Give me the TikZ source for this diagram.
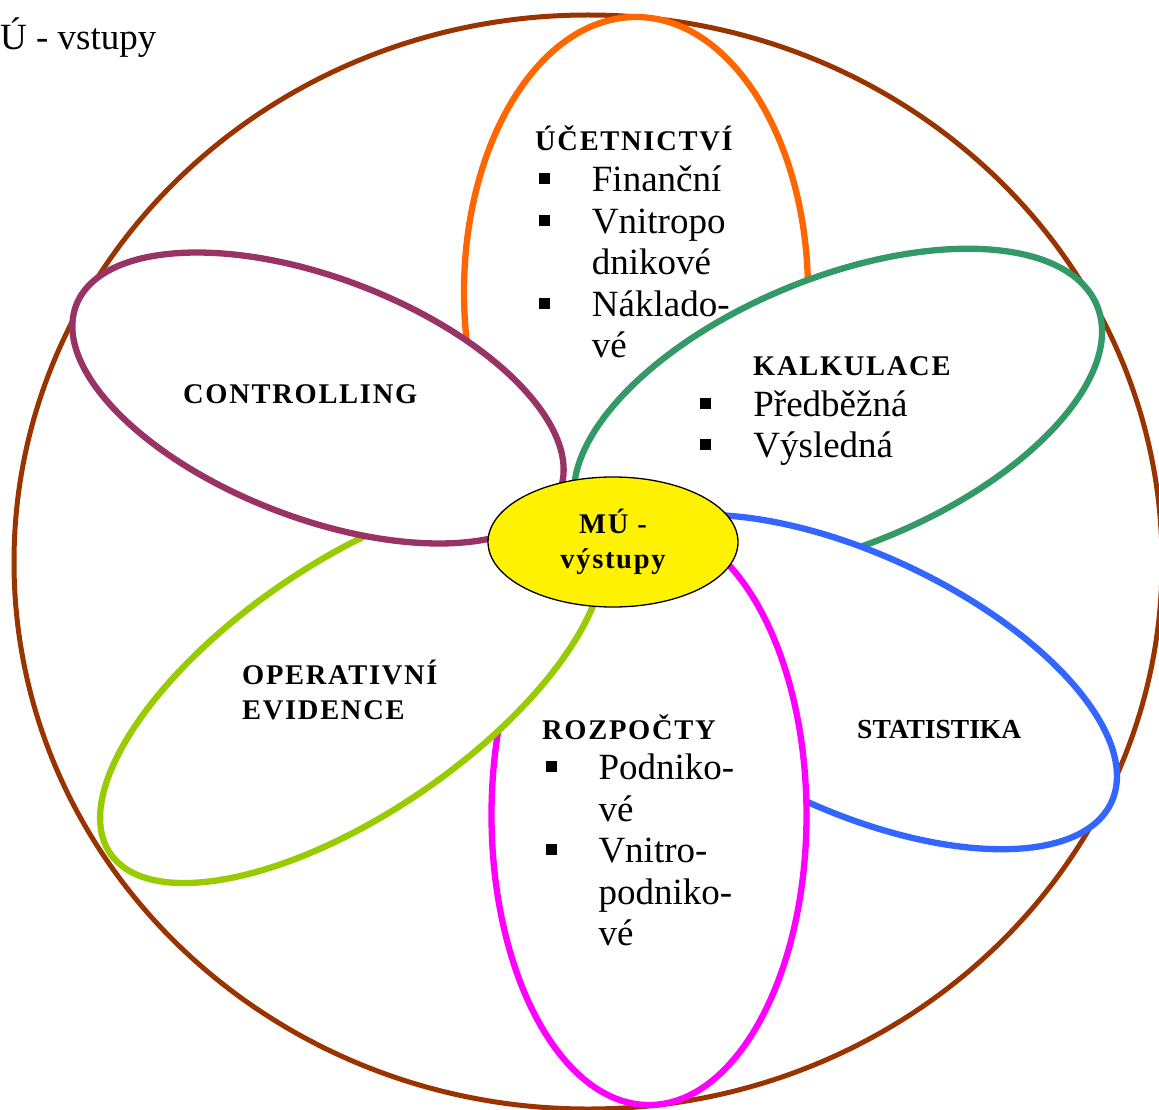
\documentclass[tikz,border=0pt]{standalone}
\usepackage{fontspec}
\setmainfont{Liberation Serif}
\newfontfamily\headfont[LetterSpace=6]{Liberation Serif}
\usetikzlibrary{shapes.geometric}
\definecolor{rimcol}{HTML}{993300}
\definecolor{ucetcol}{HTML}{FF6600}
\definecolor{kalkcol}{HTML}{339966}
\definecolor{statcol}{HTML}{3366FF}
\definecolor{rozpcol}{HTML}{FF00FF}
\definecolor{opercol}{HTML}{99CC00}
\definecolor{ctrlcol}{HTML}{993366}
\newcommand{\sqb}{\rule[7.5pt]{11pt}{11pt}}
\newcommand{\itm}[1]{\makebox[53pt][l]{\sqb}#1}
\newcommand{\cnt}[1]{\hspace*{53pt}#1}
\tikzset{petal/.style={ellipse,draw,line width=6.3pt,fill=white,inner sep=0pt},
         head/.style={anchor=base west,inner sep=0pt,font=\headfont\fontsize{28.5}{35.6}\selectfont\bfseries},
         plainhead/.style={anchor=base west,inner sep=0pt,font=\fontsize{27.5}{35.6}\selectfont\bfseries},
         lst/.style={anchor=base west,inner sep=0pt,font=\fontsize{37}{41.5}\selectfont},
         core/.style={ellipse,draw=black,line width=1.3pt,fill=yellow,inner sep=0pt,align=center,
                      minimum width=250,minimum height=130,font=\headfont\fontsize{28.5}{35}\selectfont\bfseries},
        }

\begin{document}
\begin{tikzpicture}[x=1pt,y=-1pt]
        \useasboundingbox(0,0)rectangle(1159,1110);
        \node[ellipse,draw=rimcol,line width=5pt,inner sep=0pt,minimum width=1148,minimum height=1094](rim)at(588,562){};

        \node[petal,draw=ucetcol,minimum width=344,minimum height=550](ucet)at(636,292){};
        \node[petal,draw=kalkcol,minimum width=560,minimum height=268,rotate=22.3](kalk)at(838,412){};
        \node[petal,draw=statcol,minimum width=570,minimum height=256,rotate=-25](stat)at(853,682){};
        \node[petal,draw=rozpcol,minimum width=315,minimum height=580](rozp)at(649,815){};
        \node[petal,draw=opercol,minimum width=586,minimum height=250,rotate=34.4](oper)at(352,688){};
        \node[petal,draw=ctrlcol,minimum width=518,minimum height=240,rotate=-21](ctrl)at(318,398){};

        \node[core](mu)at(613,542){MÚ -\\výstupy};

        \node[lst](vstupy)at(0,50){Ú - vstupy};

        \node[head](ucethd)at(535,151){ÚČETNICTVÍ};
        \node[lst](ucetls)at(538.7,192){\parbox[t]{220pt}{\itm{Finanční}\\\itm{Vnitropo}\\\cnt{dnikové}\\\itm{Náklado-}\\\cnt{vé}}};

        \node[head](kalkhd)at(753,375){KALKULACE};
        \node[lst](kalkls)at(700.2,416){\parbox[t]{260pt}{\itm{Předběžná}\\\itm{Výsledná}}};

        \node[head](ctrlhd)at(183,403){CONTROLLING};

        \node[head](operhd)at(242,684){\parbox[t]{220pt}{OPERATIVNÍ\\EVIDENCE}};

        \node[head](rozphd)at(542,739){ROZPOČTY};
        \node[lst](rozpls)at(545.3,779.5){\parbox[t]{220pt}{\itm{Podniko-}\\\cnt{vé}\\\itm{Vnitro-}\\\cnt{podniko-}\\\cnt{vé}}};

        \node[plainhead](stathd)at(857,738){STATISTIKA};
    \end{tikzpicture}
\end{document}
